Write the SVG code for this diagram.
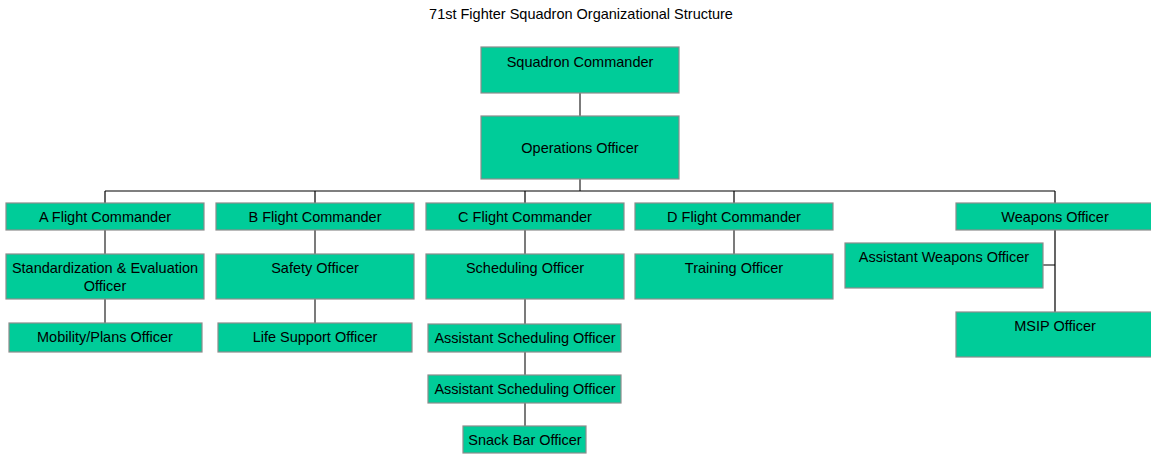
<svg xmlns="http://www.w3.org/2000/svg" width="1151" height="454" viewBox="0 0 1151 454">
<style>
.box{fill:#00CC99;stroke:#8c8c8c;stroke-width:1.2}
.t{font-family:"Liberation Sans",Arial,sans-serif;font-size:14.5px;fill:#000;text-anchor:middle}
.c{stroke:#505050;stroke-width:1.5;fill:none}
.bus{stroke:#000;stroke-width:1.2;fill:none}
</style>
<rect width="1151" height="454" fill="#fff"/>
<text class="t" x="581" y="19">71st Fighter Squadron Organizational Structure</text>
<g id="connectors">
<path class="c" d="M580 93V116M580 179V191"/>
<path class="bus" d="M105 191H1055M105 191V203M315 191V203M525 191V203M734 191V203M1055 191V203"/>
<path class="c" d="M105 230V254M105 299V323M315 230V254M315 299V323M525 230V254M525 299V324M525 352V375M525 403V426M734 230V254"/>
<path class="bus" d="M1055 230V312M1043 265H1055"/>
</g>
<g id="squadron-commander"><rect class="box" x="481" y="47" width="198" height="46"/><text class="t" x="580" y="67">Squadron Commander</text></g>
<g id="operations-officer"><rect class="box" x="481" y="116" width="198" height="63"/><text class="t" x="580" y="153">Operations Officer</text></g>
<g id="a-flight"><rect class="box" x="6" y="203" width="198" height="27"/><text class="t" x="105" y="222">A Flight Commander</text></g>
<g id="b-flight"><rect class="box" x="216" y="203" width="198" height="27"/><text class="t" x="315" y="222">B Flight Commander</text></g>
<g id="c-flight"><rect class="box" x="426" y="203" width="198" height="27"/><text class="t" x="525" y="222">C Flight Commander</text></g>
<g id="d-flight"><rect class="box" x="635" y="203" width="198" height="27"/><text class="t" x="734" y="222">D Flight Commander</text></g>
<g id="weapons-officer"><rect class="box" x="956" y="203" width="198" height="27"/><text class="t" x="1055" y="222">Weapons Officer</text></g>
<g id="stan-eval"><rect class="box" x="6" y="254" width="198" height="45"/><text class="t" x="105" y="273">Standardization &amp; Evaluation</text><text class="t" x="105" y="291">Officer</text></g>
<g id="safety-officer"><rect class="box" x="216" y="254" width="198" height="45"/><text class="t" x="315" y="273">Safety Officer</text></g>
<g id="scheduling-officer"><rect class="box" x="426" y="254" width="198" height="45"/><text class="t" x="525" y="273">Scheduling Officer</text></g>
<g id="training-officer"><rect class="box" x="635" y="254" width="198" height="45"/><text class="t" x="734" y="273">Training Officer</text></g>
<g id="assistant-weapons"><rect class="box" x="845" y="243" width="198" height="45"/><text class="t" x="944" y="262">Assistant Weapons Officer</text></g>
<g id="msip-officer"><rect class="box" x="956" y="312" width="198" height="45"/><text class="t" x="1055" y="331">MSIP Officer</text></g>
<g id="mobility-plans"><rect class="box" x="9" y="323" width="193" height="29"/><text class="t" x="105" y="342">Mobility/Plans Officer</text></g>
<g id="life-support"><rect class="box" x="218" y="323" width="194" height="29"/><text class="t" x="315" y="342">Life Support Officer</text></g>
<g id="asst-sched-1"><rect class="box" x="428" y="324" width="193" height="28"/><text class="t" x="525" y="343">Assistant Scheduling Officer</text></g>
<g id="asst-sched-2"><rect class="box" x="428" y="375" width="193" height="28"/><text class="t" x="525" y="394">Assistant Scheduling Officer</text></g>
<g id="snack-bar"><rect class="box" x="463" y="426" width="123" height="27"/><text class="t" x="525" y="445">Snack Bar Officer</text></g>
</svg>
